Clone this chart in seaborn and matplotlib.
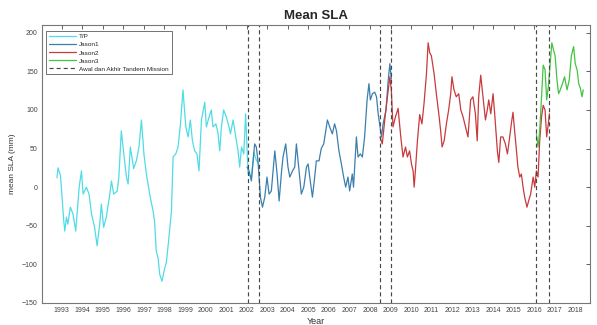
import seaborn as sns
import matplotlib.pyplot as plt
import pandas as pd

# data (year, mean SLA in mm)
tp_year = [1992.77, 1992.82, 1992.94, 1993.10, 1993.15, 1993.23, 1993.30, 1993.42, 1993.55, 1993.68,
           1993.85, 1993.96, 1994.04, 1994.20, 1994.33, 1994.45, 1994.60, 1994.72, 1994.85, 1994.93,
           1995.04, 1995.17, 1995.34, 1995.42, 1995.53, 1995.70, 1995.78, 1995.90, 1996.02, 1996.15,
           1996.23, 1996.34, 1996.50, 1996.63, 1996.76, 1996.88, 1997.00, 1997.12, 1997.28, 1997.36,
           1997.44, 1997.52, 1997.60, 1997.69, 1997.77, 1997.88, 1998.01, 1998.09, 1998.20, 1998.34,
           1998.42, 1998.55, 1998.66, 1998.78, 1998.90, 1999.04, 1999.15, 1999.26, 1999.36, 1999.47,
           1999.58, 1999.68, 1999.80, 1999.96, 2000.04, 2000.17, 2000.28, 2000.36, 2000.50, 2000.60,
           2000.69, 2000.77, 2000.88, 2001.01, 2001.14, 2001.21, 2001.34, 2001.47, 2001.58, 2001.66,
           2001.75, 2001.86, 2001.95, 2002.07, 2002.23, 2002.35, 2002.47, 2002.58]
tp_sla = [12, 25, 15, -44, -57, -39, -48, -26, -35, -57,
          0, 21, -9, 0, -9, -35, -52, -76, -48, -22,
          -52, -39, -9, 8, -9, -5, 13, 73, 43, 13,
          4, 52, 24, 34, 52, 87, 43, 17, -9, -20,
          -30, -45, -83, -92, -113, -122, -105, -98, -70, -31,
          39, 43, 52, 82, 126, 78, 65, 87, 60, 47,
          43, 21, 87, 110, 78, 91, 100, 78, 82, 71,
          47, 78, 100, 91, 78, 69, 87, 65, 47, 26,
          52, 43, 95, 17, 13, 45, 35, 30]

j1_year = [2002.02, 2002.12, 2002.23, 2002.39, 2002.47, 2002.55, 2002.67, 2002.77, 2002.88, 2002.99,
           2003.09, 2003.20, 2003.37, 2003.48, 2003.58, 2003.70, 2003.77, 2003.90, 2004.01, 2004.10,
           2004.23, 2004.34, 2004.42, 2004.55, 2004.66, 2004.78, 2004.91, 2004.99, 2005.07, 2005.20,
           2005.31, 2005.39, 2005.52, 2005.63, 2005.75, 2005.85, 2005.93, 2006.04, 2006.17, 2006.28,
           2006.37, 2006.49, 2006.61, 2006.72, 2006.82, 2006.93, 2007.01, 2007.14, 2007.20, 2007.34,
           2007.42, 2007.53, 2007.63, 2007.74, 2007.86, 2007.95, 2008.02, 2008.12, 2008.23, 2008.32,
           2008.40, 2008.49, 2008.56, 2008.64, 2008.78, 2008.89, 2008.97, 2009.04]
j1_sla = [26, 21, 8, 56, 52, 34, -13, -26, -13, 13,
          -9, -5, 47, 17, -18, 21, 39, 56, 26, 13,
          21, 26, 56, 21, -9, 0, 26, 30, 13, -13,
          13, 34, 34, 50, 56, 73, 87, 78, 69, 82,
          73, 47, 30, 13, 0, 13, -5, 17, 0, 65,
          39, 43, 39, 65, 113, 134, 113, 121, 123, 117,
          95, 78, 65, 82, 100, 139, 160, 140]

j2_year = [2008.49, 2008.60, 2008.72, 2008.85, 2008.97, 2009.04, 2009.12, 2009.24, 2009.37, 2009.50,
           2009.61, 2009.73, 2009.82, 2009.93, 2010.02, 2010.10, 2010.15, 2010.21, 2010.31, 2010.42,
           2010.53, 2010.63, 2010.75, 2010.83, 2010.91, 2010.99, 2011.12, 2011.23, 2011.35, 2011.44,
           2011.51, 2011.61, 2011.72, 2011.83, 2011.93, 2011.99, 2012.09, 2012.20, 2012.32, 2012.42,
           2012.53, 2012.65, 2012.77, 2012.90, 2013.01, 2013.13, 2013.22, 2013.29, 2013.39, 2013.50,
           2013.62, 2013.71, 2013.78, 2013.88, 2013.99, 2014.07, 2014.20, 2014.27, 2014.36, 2014.47,
           2014.59, 2014.69, 2014.80, 2014.88, 2014.96, 2015.04, 2015.13, 2015.20, 2015.29, 2015.37,
           2015.45, 2015.53, 2015.64, 2015.72, 2015.82, 2015.94, 2016.02, 2016.10, 2016.18, 2016.26,
           2016.35, 2016.43, 2016.52, 2016.60, 2016.68, 2016.73]
j2_sla = [65, 56, 87, 117, 143, 126, 78, 91, 102, 65,
          39, 52, 39, 47, 30, 21, 0, 21, 60, 94,
          82, 108, 147, 187, 174, 170, 147, 121, 95, 73,
          52, 60, 82, 100, 121, 143, 126, 117, 121, 100,
          91, 78, 65, 113, 117, 95, 60, 117, 145, 117,
          87, 100, 113, 95, 121, 95, 47, 32, 65, 65,
          56, 43, 65, 82, 97, 73, 47, 26, 13, 17,
          0, -13, -26, -18, -9, 13, 0, 21, 13, 60,
          91, 106, 100, 65, 82, 95]

j3_year = [2016.10, 2016.18, 2016.26, 2016.35, 2016.43, 2016.52, 2016.60, 2016.68, 2016.77, 2016.85,
           2016.93, 2017.01, 2017.10, 2017.18, 2017.26, 2017.37, 2017.47, 2017.59, 2017.70, 2017.80,
           2017.91, 2017.99, 2018.08, 2018.16, 2018.24, 2018.32, 2018.38]
j3_sla = [69, 52, 73, 117, 158, 152, 113, 130, 160, 187,
          178, 170, 139, 121, 126, 134, 143, 126, 139, 170,
          182, 160, 152, 134, 128, 117, 126]

# awal dan akhir tandem mission
tandem = [2002.05, 2002.60, 2008.50, 2009.03, 2016.07, 2016.70]

missions = ['T/P', 'Jason1', 'Jason2', 'Jason3']
colors = ['#4fdce6', '#3b7fae', '#c83a3c', '#42c442']

df = pd.concat([
    pd.DataFrame({'year': tp_year, 'sla': tp_sla, 'mission': 'T/P'}),
    pd.DataFrame({'year': j1_year, 'sla': j1_sla, 'mission': 'Jason1'}),
    pd.DataFrame({'year': j2_year, 'sla': j2_sla, 'mission': 'Jason2'}),
    pd.DataFrame({'year': j3_year, 'sla': j3_sla, 'mission': 'Jason3'}),
], ignore_index=True)

sns.set_theme(style="white")
plt.rcParams['font.family'] = ['Liberation Sans', 'DejaVu Sans']

fig = plt.figure(figsize=(5.97, 3.25), dpi=100)
ax = fig.add_axes([0.070, 0.068, 0.918, 0.855])

sns.lineplot(data=df, x='year', y='sla', hue='mission', hue_order=missions,
             palette=dict(zip(missions, colors)), estimator=None, sort=False,
             linewidth=0.9, ax=ax, legend=False)

dash = (0, (3.5, 2.5))
for t in tandem:
    ax.axvline(t, color='#484848', linestyle=dash, linewidth=0.85)

ax.set_xlim(1992.03, 2018.7)
ax.set_ylim(-150, 210)
ax.set_xticks(range(1993, 2019))
ax.set_yticks(range(-150, 201, 50))
ax.tick_params(axis='both', which='both', direction='in', length=3, width=0.6,
               labelsize=5, colors='#444444', top=True, right=True, pad=3)
for s in ax.spines.values():
    s.set_color('#777777')
    s.set_linewidth(0.8)

ax.set_title('Mean SLA', fontsize=9.5, fontweight='bold', pad=4)
ax.set_xlabel('Year', fontsize=6.5, color='#333333', labelpad=2)
ax.set_ylabel('mean SLA (mm)', fontsize=6, color='#333333', labelpad=4)

handles = [plt.Line2D([], [], color=c, linewidth=0.9) for c in colors]
handles.append(plt.Line2D([], [], color='#484848', linestyle=dash, linewidth=0.85))
labels = missions + ['Awal dan Akhir Tandem Mission']
leg = ax.legend(handles, labels, loc='upper left', bbox_to_anchor=(0.005, 0.985),
                fontsize=4.6, frameon=True, fancybox=False, handlelength=4.2,
                borderpad=0.45, labelspacing=0.4, handletextpad=0.5, borderaxespad=0.3)
leg.get_frame().set_edgecolor('#333333')
leg.get_frame().set_linewidth(0.6)

fig.savefig('out.png', dpi=100)
